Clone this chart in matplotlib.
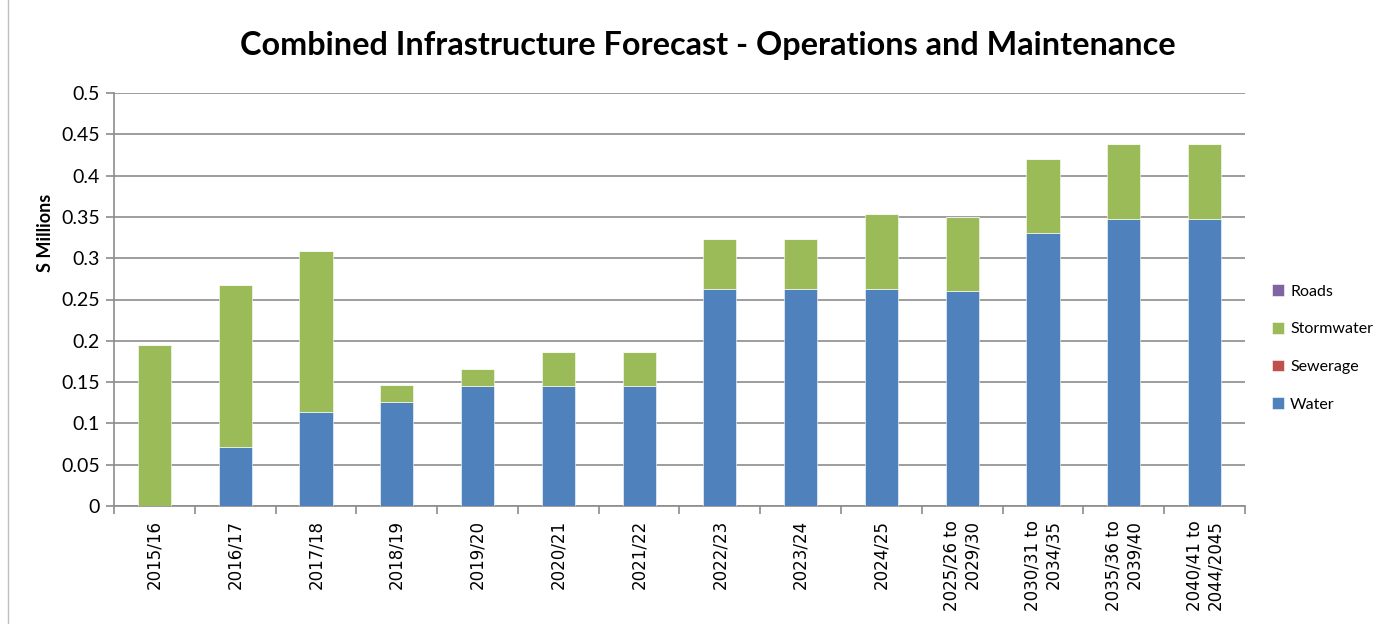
import numpy as np
import matplotlib
matplotlib.use("Agg")
import matplotlib.pyplot as plt

periodos = ["2015/16", "2016/17", "2017/18", "2018/19", "2019/20", "2020/21",
            "2021/22", "2022/23", "2023/24", "2024/25", "2025/26 to\n2029/30",
            "2030/31 to\n2034/35", "2035/36 to\n2039/40", "2040/41 to\n2044/2045"]
water = [0.0, 0.072, 0.114, 0.126, 0.145, 0.145, 0.145, 0.263, 0.263, 0.263,
         0.260, 0.330, 0.348, 0.348]
sewerage = [0.0] * 14
stormwater = [0.195, 0.195, 0.195, 0.020, 0.021, 0.041, 0.041, 0.060, 0.060,
              0.090, 0.090, 0.090, 0.090, 0.090]
roads = [0.0] * 14

cores = {"Water": "#4F81BD", "Sewerage": "#C0504D",
         "Stormwater": "#9BBB59", "Roads": "#8064A2"}

fonte = ["Lato", "DejaVu Sans"]

fig = plt.figure(figsize=(13.91, 6.24), dpi=100)
ax = fig.add_axes([114 / 1391, 1 - 506 / 624, (1245 - 114) / 1391, (506 - 93) / 624])

x = np.arange(len(periodos))
base = np.zeros(len(periodos))
barras = {}
for nome, valores in [("Water", water), ("Sewerage", sewerage),
                      ("Stormwater", stormwater), ("Roads", roads)]:
    barras[nome] = ax.bar(x, valores, width=0.41, bottom=base, color=cores[nome],
                          edgecolor="white", linewidth=0.4, zorder=3)
    base = base + np.array(valores)

ax.set_xlim(-0.5, len(periodos) - 0.5)
ax.set_ylim(0, 0.5)
ax.set_yticks(np.arange(0, 0.51, 0.05))
ax.set_yticklabels(["0", "0.05", "0.1", "0.15", "0.2", "0.25", "0.3", "0.35",
                    "0.4", "0.45", "0.5"], fontsize=14, family=fonte)
ax.grid(axis="y", color="#8C8C8C", linewidth=1.2, zorder=0)

ax.set_xticks(x)
ax.set_xticklabels(periodos, rotation=90, fontsize=12, family="DejaVu Sans",
                   multialignment="right")
ax.tick_params(axis="x", length=0, pad=10)
ax.set_xticks(np.arange(-0.5, len(periodos), 1), minor=True)
ax.tick_params(axis="x", which="minor", length=6, color="#8C8C8C", width=1.2)
ax.tick_params(axis="y", length=6, color="#8C8C8C", width=1.2, pad=4)

for lado in ["top", "right"]:
    ax.spines[lado].set_visible(False)
for lado in ["left", "bottom"]:
    ax.spines[lado].set_color("#8C8C8C")
    ax.spines[lado].set_linewidth(1.2)

ax.set_ylabel("S Millions", fontsize=13, fontweight="bold", family=fonte, labelpad=10)
ax.yaxis.set_label_coords(-60 / 1131, 1 - 140 / 413)

fig.suptitle("Combined Infrastructure Forecast - Operations and Maintenance",
             x=(243 + 1172) / 2 / 1391, y=1 - 46 / 624, va="center",
             fontsize=23.3, fontweight="bold", family=fonte)

ordem = ["Roads", "Stormwater", "Sewerage", "Water"]
leg = fig.legend([barras[n] for n in ordem], ordem, loc="center left",
                 bbox_to_anchor=(1267 / 1391, 1 - 348 / 624), frameon=False,
                 prop={"family": fonte, "size": 11.5}, handlelength=0.75,
                 handleheight=0.75, handletextpad=0.4, labelspacing=1.45,
                 borderaxespad=0, borderpad=0.3)

# borda externa do gráfico
fig.patches.append(plt.Rectangle((8 / 1391, -0.01), 1.0, 1.02, transform=fig.transFigure,
                                 fill=False, edgecolor="#BFBFBF", linewidth=1))

fig.savefig("out.png", dpi=100)
